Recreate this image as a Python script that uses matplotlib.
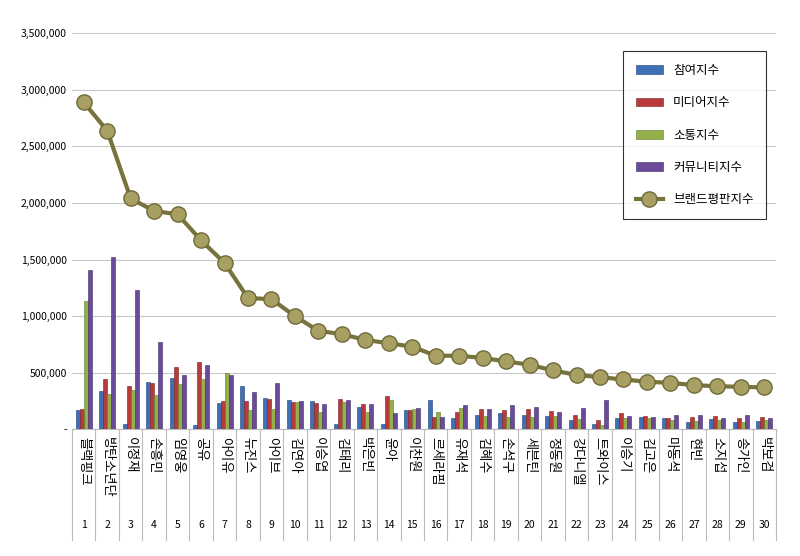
import matplotlib
matplotlib.use("Agg")
import matplotlib.pyplot as plt
import numpy as np

plt.rcParams["font.family"] = ["Noto Sans CJK KR", "Noto Sans CJK JP", "Noto Sans CJK SC", "DejaVu Sans"]

names = ["블랙핑크","방탄소년단","이정재","손흥민","임영웅","공유","아이유","뉴진스","아이브","김연아",
         "이승엽","김태리","박은빈","윤아","이찬원","르세라핌","유재석","김혜수","손석구","세븐틴",
         "정동원","강다니엘","트와이스","이승기","김고은","마동석","현빈","소지섭","송가인","박보검"]
ranks = [str(i) for i in range(1, 31)]
participation = [170,340,50,420,450,40,230,380,280,260,250,50,200,50,170,260,100,130,140,130,120,80,50,100,110,100,60,90,60,70]
media = [180,440,380,410,550,590,250,250,270,240,230,270,220,290,170,110,150,180,170,180,160,130,80,140,120,100,110,120,100,110]
communication = [1130,310,350,300,400,440,500,170,180,240,150,240,150,260,180,150,190,120,110,110,120,90,40,100,100,80,70,80,60,80]
community = [1410,1520,1230,770,480,570,480,330,410,250,220,260,220,140,190,110,210,180,210,200,150,190,260,120,110,130,130,100,130,100]
brand = [2890,2640,2040,1930,1900,1670,1470,1160,1150,1000,870,840,790,760,730,650,650,630,600,570,520,480,460,440,420,410,390,380,375,370]
series_names = ["참여지수","미디어지수","소통지수","커뮤니티지수","브랜드평판지수"]
colors = ["#3f6fb5","#b83a3a","#93b04a","#6b4a9a"]
edge = ["#1f3f7a","#7a1f1f","#5d7a2a","#3f2a66"]

fig = plt.figure(figsize=(8, 5.56), dpi=100)
ax = fig.add_axes([0.09, 0.228, 0.88, 0.712])
x = np.arange(30)
w = 0.17
data = [participation, media, communication, community]
handles = []
for i, d in enumerate(data):
    h = ax.bar(x + (i - 1.5) * w, np.array(d) * 1000, w, color=colors[i], edgecolor=edge[i], linewidth=0.4, label=series_names[i], zorder=3)
    handles.append(h)
ln, = ax.plot(x, np.array(brand) * 1000, color="#77733c", lw=3, marker="o", ms=11,
        mfc="#a89f62", mec="#6f6a3a", mew=1, label=series_names[4], zorder=4)
handles.append(ln)
ax.set_ylim(0, 3500000)
ax.set_xlim(-0.5, 29.5)
ticks = np.arange(0, 3500001, 500000)
ax.set_yticks(ticks)
ax.set_yticklabels(["-"] + [f"{t:,}" for t in ticks[1:]], fontsize=7.5)
ax.grid(axis="y", color="#c8c8c8", lw=0.8, zorder=0)
for s in ["top", "right", "left"]:
    ax.spines[s].set_visible(False)
ax.spines["bottom"].set_color("#bbbbbb")
ax.tick_params(axis="y", length=0)
ax.set_xticks(x)
ax.set_xticklabels([])
ax.tick_params(axis="x", length=0)
for i in range(30):
    ax.text(i, -0.02, names[i], rotation=-90, transform=ax.get_xaxis_transform(),
            ha="center", va="top", fontsize=9.5)
    ax.text(i, -0.23, ranks[i], transform=ax.get_xaxis_transform(), ha="center", va="top", fontsize=7.5)
for i in range(31):
    ax.plot([i - 0.5, i - 0.5], [0, -0.28], transform=ax.get_xaxis_transform(), color="#bbbbbb", lw=0.8, clip_on=False)
leg = ax.legend(handles=handles, labels=series_names, loc="upper right", bbox_to_anchor=(0.995, 0.97), fontsize=9, frameon=True,
                fancybox=False, edgecolor="black", labelspacing=1.55, borderpad=1.0, handlelength=2.2)
leg.get_frame().set_linewidth(0.8)
fig.savefig("out.png", dpi=100)
